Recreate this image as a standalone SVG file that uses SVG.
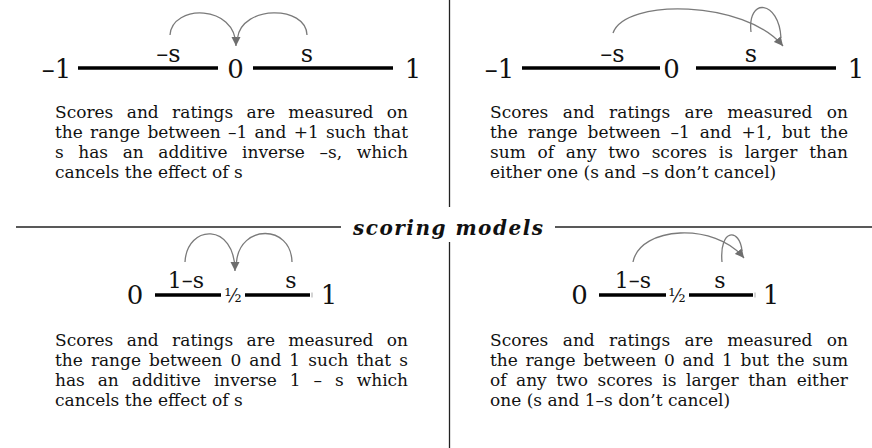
<svg xmlns="http://www.w3.org/2000/svg" width="872" height="448" viewBox="0 0 872 448">
  <defs>
    <marker id="ah" markerUnits="userSpaceOnUse" markerWidth="10" markerHeight="10" refX="9" refY="4.5" orient="auto" viewBox="0 0 10 9">
      <path d="M0,0 L9,4.5 L0,9 z" fill="#6e6e6e"/>
    </marker>
    <style>
      .num { font-family: "DejaVu Serif", "Liberation Serif", serif; font-size: 26px; fill: #111; text-anchor: middle; }
      .lbl { font-family: "DejaVu Serif", "Liberation Serif", serif; font-size: 24px; fill: #111; text-anchor: middle; }
      .lbl2 { font-family: "DejaVu Serif", "Liberation Serif", serif; font-size: 22px; fill: #111; text-anchor: middle; }
      .half { font-family: "DejaVu Serif", "Liberation Serif", serif; font-size: 18px; fill: #111; text-anchor: middle; }
      .p { font-family: "DejaVu Serif", "Liberation Serif", serif; font-size: 17px; fill: #111; }
      .title { font-family: "DejaVu Serif", "Liberation Serif", serif; font-size: 20px; font-weight: bold; font-style: italic; fill: #111; text-anchor: middle; }
      .axis { stroke: #000; stroke-width: 3.5; fill: none; }
      .rule { stroke: #222; stroke-width: 1.3; fill: none; }
      .arc { stroke: #7a7a7a; stroke-width: 1.3; fill: none; }
      .stub { stroke: #aaa; stroke-width: 1; }
    </style>
  </defs>

  <!-- frame rules and title -->
  <g id="frame">
    <line class="rule" x1="449.5" y1="0" x2="449.5" y2="207"/>
    <line class="rule" x1="449.5" y1="242" x2="449.5" y2="448"/>
    <line class="rule" x1="16" y1="227" x2="341" y2="227"/>
    <line class="rule" x1="555" y1="227" x2="872" y2="227"/>
    <text class="title" x="448" y="235" textLength="190" lengthAdjust="spacing">scoring models</text>
  </g>

  <!-- top-left: additive model -1..1 -->
  <g id="model-tl">
    <line class="axis" x1="78" y1="68" x2="218" y2="68"/>
    <line class="axis" x1="253" y1="68" x2="393" y2="68"/>
    <text class="num" x="56.5" y="78">–1</text>
    <text class="num" x="235.5" y="78">0</text>
    <text class="num" x="413" y="78">1</text>
    <text class="lbl" x="168.5" y="62">–s</text>
    <text class="lbl" x="307" y="62">s</text>
    <text class="p" x="55" y="117.5" word-spacing="8" textLength="353" lengthAdjust="spacing">Scores and ratings are measured on</text>
    <text class="p" x="55" y="137.5" word-spacing="1.9" textLength="353" lengthAdjust="spacing">the range between –1 and +1 such that</text>
    <text class="p" x="55" y="157.5" word-spacing="9.2" textLength="353" lengthAdjust="spacing">s has an additive inverse –s, which</text>
    <text class="p" x="55" y="177.5">cancels the effect of s</text>
  </g>

  <!-- top-right: non-cancelling model -1..1 -->
  <g id="model-tr">
    <line class="axis" x1="522" y1="68" x2="660" y2="68"/>
    <line class="axis" x1="696" y1="68" x2="836" y2="68"/>
    <text class="num" x="499.5" y="78">–1</text>
    <text class="num" x="671.5" y="78">0</text>
    <text class="num" x="856" y="78">1</text>
    <text class="lbl" x="612.5" y="62">–s</text>
    <text class="lbl" x="751" y="62">s</text>
    <text class="p" x="490" y="117.5" word-spacing="9" textLength="358" lengthAdjust="spacing">Scores and ratings are measured on</text>
    <text class="p" x="490" y="137.5" word-spacing="4.5" textLength="358" lengthAdjust="spacing">the range between –1 and +1, but the</text>
    <text class="p" x="490" y="157.5" word-spacing="6.4" textLength="358" lengthAdjust="spacing">sum of any two scores is larger than</text>
    <text class="p" x="490" y="177.5">either one (s and –s don’t cancel)</text>
  </g>

  <!-- bottom-left: additive model 0..1 -->
  <g id="model-bl">
    <line class="axis" x1="155" y1="295" x2="221" y2="295"/>
    <line class="axis" x1="245" y1="295" x2="310" y2="295"/>
    <line class="stub" x1="312" y1="292.5" x2="312" y2="297.5"/>
    <text class="num" x="135" y="304">0</text>
    <text class="half" x="233" y="302">½</text>
    <text class="num" x="329" y="304">1</text>
    <text class="lbl2" x="186" y="288">1–s</text>
    <text class="lbl2" x="291" y="288">s</text>
    <text class="p" x="55" y="345.7" word-spacing="8" textLength="353" lengthAdjust="spacing">Scores and ratings are measured on</text>
    <text class="p" x="55" y="365.7" word-spacing="2.75" textLength="353" lengthAdjust="spacing">the range between 0 and 1 such that s</text>
    <text class="p" x="55" y="385.7" word-spacing="7.6" textLength="353" lengthAdjust="spacing">has an additive inverse 1 – s which</text>
    <text class="p" x="55" y="405.7">cancels the effect of s</text>
  </g>

  <!-- bottom-right: non-cancelling model 0..1 -->
  <g id="model-br">
    <line class="axis" x1="599" y1="295" x2="666" y2="295"/>
    <line class="axis" x1="689" y1="295" x2="753" y2="295"/>
    <line class="stub" x1="755" y1="292.5" x2="755" y2="297.5"/>
    <text class="num" x="579.5" y="304">0</text>
    <text class="half" x="677" y="302">½</text>
    <text class="num" x="771" y="304">1</text>
    <text class="lbl2" x="633" y="288">1–s</text>
    <text class="lbl2" x="720" y="288">s</text>
    <text class="p" x="490" y="345.7" word-spacing="9" textLength="358" lengthAdjust="spacing">Scores and ratings are measured on</text>
    <text class="p" x="490" y="365.7" word-spacing="2.3" textLength="358" lengthAdjust="spacing">the range between 0 and 1 but the sum</text>
    <text class="p" x="490" y="385.7" word-spacing="4.2" textLength="358" lengthAdjust="spacing">of any two scores is larger than either</text>
    <text class="p" x="490" y="405.7">one (s and 1–s don’t cancel)</text>
  </g>

  <!-- connectors -->
  <g id="connectors">
    <path class="arc" d="M170,35 C172,4 236,4 236,46" marker-end="url(#ah)"/>
    <path class="arc" d="M307,35 C306,5 242,5 237.5,38"/>
    <path class="arc" d="M613,33 C625,-2 745,0 783,46" marker-end="url(#ah)"/>
    <path class="arc" d="M751,32 C747,-3 779,0 781,38"/>
    <path class="arc" d="M185,262 C187,224 235,222 235,271" marker-end="url(#ah)"/>
    <path class="arc" d="M292,262 C291,224 240,224 236.5,262"/>
    <path class="arc" d="M633,262 C640,226 715,222 744,258" marker-end="url(#ah)"/>
    <path class="arc" d="M722,262 C719,228 740,228 742,251"/>
  </g>
</svg>
